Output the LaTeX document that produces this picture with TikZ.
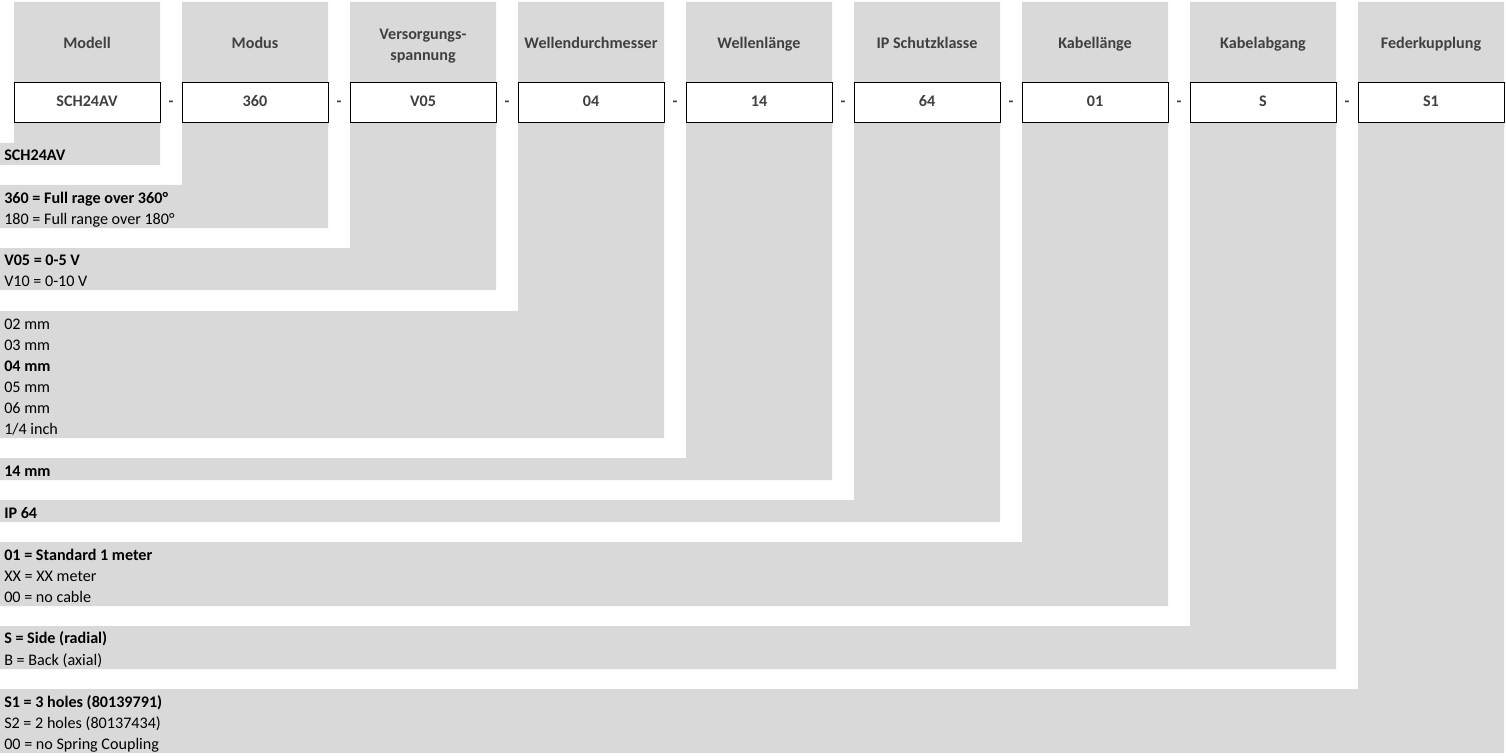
\documentclass[tikz,border=0pt]{standalone}
\usepackage{fontspec}
\setmainfont{Carlito}
\definecolor{cellgrey}{HTML}{D9D9D9}
\definecolor{hdrtext}{HTML}{404040}
\begin{document}
\begin{tikzpicture}[x=0.75pt,y=-0.75pt,
  hgt/.style={text height=0.75em, text depth=0.1em},
  hdr/.style={font=\fontsize{12.1}{15.75}\selectfont\bfseries, text=hdrtext, align=center, inner sep=0pt},
  hdrone/.style={hdr, hgt},
  valbox/.style={draw=black, fill=white, line width=0.75pt, minimum width=109.5pt, minimum height=30pt, inner sep=0pt, outer sep=0pt, font=\fontsize{12.1}{14}\selectfont\bfseries, text=hdrtext, hgt},
  sep/.style={font=\fontsize{12.1}{14}\selectfont\bfseries, text=hdrtext, inner sep=0pt, hgt},
  rowtext/.style={anchor=west, inner sep=0pt, font=\fontsize{12.1}{14}\selectfont, hgt},
  rowbold/.style={rowtext, font=\fontsize{12.1}{14}\selectfont\bfseries}]
\useasboundingbox (0,0) rectangle (1506,756);
% grey L-shaped cells
\foreach \l/\t/\b in {14/143/165,182/185/228,350/248/290,518/311/438,686/458/480,854/500/522,1022/542/606,1190/626/669,1358/689/753}
  \fill[cellgrey] (0,\t) -- (\l,\t) -- (\l,2) -- (\l+146,2) -- (\l+146,\b) -- (0,\b) -- cycle;
% headers
\node[hdrone] (h1) at (87,44) {Modell};
\node[hdrone] (h2) at (255,44) {Modus};
\node[hdr] (h3) at (423,46) {Versorgungs-\\spannung};
\node[hdrone] (h4) at (591,44) {Wellendurchmesser};
\node[hdrone] (h5) at (759,44) {Wellenlänge};
\node[hdrone] (h6) at (927,44) {IP Schutzklasse};
\node[hdrone] (h7) at (1095,44) {Kabellänge};
\node[hdrone] (h8) at (1263,44) {Kabelabgang};
\node[hdrone] (h9) at (1431,44) {Federkupplung};
% value boxes
\node[valbox] (b1) at (87,102.5) {SCH24AV};
\node[valbox] (b2) at (255,102.5) {360};
\node[valbox] (b3) at (423,102.5) {V05};
\node[valbox] (b4) at (591,102.5) {04};
\node[valbox] (b5) at (759,102.5) {14};
\node[valbox] (b6) at (927,102.5) {64};
\node[valbox] (b7) at (1095,102.5) {01};
\node[valbox] (b8) at (1263,102.5) {S};
\node[valbox] (b9) at (1431,102.5) {S1};
% separators
\foreach \i/\x in {1/171,2/339,3/507,4/675,5/843,6/1011,7/1179,8/1347}
  \node[sep] (d\i) at (\x,102.5) {-};
% row texts
\node[rowbold] (r1a) at (4,156) {SCH24AV};
\node[rowbold] (r2a) at (4,199) {360 = Full rage over 360°};
\node[rowtext] (r2b) at (4,220) {180 = Full range over 180°};
\node[rowbold] (r3a) at (4,261) {V05 = 0-5 V};
\node[rowtext] (r3b) at (4,282) {V10 = 0-10 V};
\node[rowtext] (r4a) at (4,325) {02 mm};
\node[rowtext] (r4b) at (4,346) {03 mm};
\node[rowbold] (r4c) at (4,367) {04 mm};
\node[rowtext] (r4d) at (4,388) {05 mm};
\node[rowtext] (r4e) at (4,409) {06 mm};
\node[rowtext] (r4f) at (4,430) {1/4 inch};
\node[rowbold] (r5a) at (4,472) {14 mm};
\node[rowbold] (r6a) at (4,514) {IP 64};
\node[rowbold] (r7a) at (4,556) {01 = Standard 1 meter};
\node[rowtext] (r7b) at (4,577) {XX = XX meter};
\node[rowtext] (r7c) at (4,598) {00 = no cable};
\node[rowbold] (r8a) at (4,639) {S = Side (radial)};
\node[rowtext] (r8b) at (4,661) {B = Back (axial)};
\node[rowbold] (r9a) at (4,703) {S1 = 3 holes (80139791)};
\node[rowtext] (r9b) at (4,724) {S2 = 2 holes (80137434)};
\node[rowtext] (r9c) at (4,745) {00 = no Spring Coupling};
\end{tikzpicture}
\end{document}
